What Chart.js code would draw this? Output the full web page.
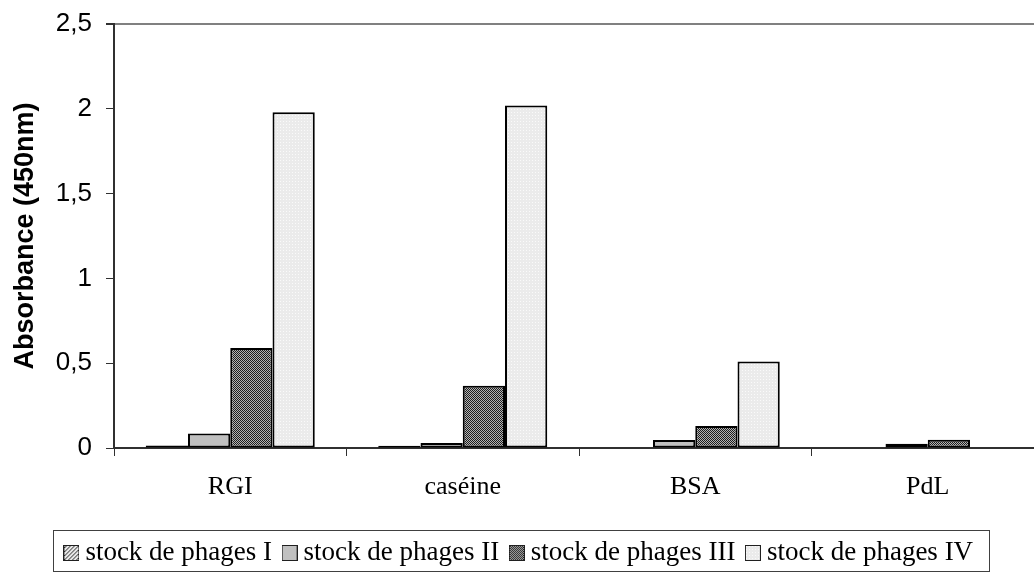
<!DOCTYPE html>
<html>
<head>
<meta charset="utf-8">
<script src="https://cdn.jsdelivr.net/npm/chart.js@4/dist/chart.umd.min.js"></script>
<style>
  html, body { margin: 0; padding: 0; background: #ffffff; overflow: hidden; }
  #wrap { width: 1034px; height: 572px; position: relative; overflow: hidden; }
  #c { display: block; }
</style>
</head>
<body>
<div id="wrap"><canvas id="c" width="1044" height="572"></canvas></div>
<script>
// Categories and measured absorbances (450 nm)
const categories = ['RGI', 'caséine', 'BSA', 'PdL'];
const seriesNames = ['stock de phages I', 'stock de phages II', 'stock de phages III', 'stock de phages IV'];
const stockI   = [0.015, 0.013, 0, 0];
const stockII  = [0.085, 0.03, 0.047, 0.025];
const stockIII = [0.59, 0.367, 0.13, 0.049];
const stockIV  = [1.98, 2.02, 0.51, 0];
const yTicks = [0, 0.5, 1, 1.5, 2, 2.5];

const SERIF = '"Liberation Serif", "Times New Roman", serif';
const SANS = '"Liberation Sans", Arial, sans-serif';

// Small tiled fill patterns
function tile(size, paint) {
  const cv = document.createElement('canvas');
  cv.width = size; cv.height = size;
  paint(cv.getContext('2d'), size);
  return cv;
}
const hatchTile = tile(4, (g, s) => {
  g.fillStyle = '#e8e8e8'; g.fillRect(0, 0, s, s);
  g.fillStyle = '#303030';
  for (let i = 0; i < s; i++) g.fillRect(s - 1 - i, i, 1, 1);
});
const greyTile = tile(2, (g) => { g.fillStyle = '#c0c0c0'; g.fillRect(0, 0, 2, 2); });
const checkTile = tile(2, (g) => {
  g.fillStyle = '#b4b4b4'; g.fillRect(0, 0, 2, 2);
  g.fillStyle = '#1e1e1e'; g.fillRect(0, 0, 1, 1); g.fillRect(1, 1, 1, 1);
});
const lightTile = tile(3, (g) => {
  g.fillStyle = '#ebebeb'; g.fillRect(0, 0, 3, 3);
  g.fillStyle = '#fafafa'; g.fillRect(1, 1, 1, 1);
});
const tiles = [hatchTile, greyTile, checkTile, lightTile];
const mainCtx = document.getElementById('c').getContext('2d');
const fills = tiles.map(t => mainCtx.createPattern(t, 'repeat'));
const values = [stockI, stockII, stockIII, stockIV];

// Legend swatches: patterned squares with a thin dark frame
const swatches = tiles.map(t => {
  const cv = document.createElement('canvas');
  cv.width = 16; cv.height = 16;
  const g = cv.getContext('2d');
  g.fillStyle = g.createPattern(t, 'repeat');
  g.fillRect(0, 0, 16, 16);
  g.strokeStyle = '#202020';
  g.lineWidth = 1;
  g.strokeRect(0.5, 0.5, 15, 15);
  return cv;
});

// Frame drawn round the legend items
const legendFrame = {
  id: 'legendFrame',
  afterDraw(chart) {
    const boxes = chart.legend && chart.legend.legendHitBoxes;
    if (!boxes || !boxes.length) return;
    const first = boxes[0], last = boxes[boxes.length - 1];
    const l = first.left + 0.5 - 8 - 10;
    const r = last.left + last.width + 16;
    const t = first.top - 9.5;
    const b = first.top + 31;
    const ctx = chart.ctx;
    ctx.save();
    ctx.strokeStyle = '#404040';
    ctx.lineWidth = 1;
    ctx.strokeRect(Math.round(l) + 0.5, Math.round(t) + 0.5, Math.round(r - l), Math.round(b - t));
    ctx.restore();
  }
};

new Chart(document.getElementById('c'), {
  type: 'bar',
  data: {
    labels: categories,
    datasets: seriesNames.map((name, i) => ({
      label: name,
      data: values[i],
      backgroundColor: fills[i],
      borderColor: '#000000',
      borderWidth: 2,
      borderSkipped: false,
      categoryPercentage: 0.727,
      barPercentage: 1.0
    }))
  },
  options: {
    responsive: false,
    animation: false,
    layout: { padding: { left: 0, right: 0, top: 24, bottom: -4.5 } },
    plugins: {
      tooltip: { enabled: false },
      legend: {
        position: 'bottom',
        labels: {
          color: '#000000',
          font: { family: SERIF, size: 27 },
          usePointStyle: true,
          pointStyleWidth: 1,
          padding: 17,
          generateLabels(chart) {
            return chart.data.datasets.map((ds, i) => ({
              text: ds.label,
              pointStyle: swatches[i],
              fillStyle: ds.backgroundColor,
              strokeStyle: '#000000',
              lineWidth: 0,
              datasetIndex: i
            }));
          }
        }
      }
    },
    scales: {
      x: {
        offset: true,
        afterFit(scale) { scale.height = 74.5; },
        border: { display: true, color: '#303030', width: 2 },
        grid: {
          offset: true,
          drawOnChartArea: false,
          drawTicks: true,
          tickLength: 8,
          color: '#303030',
          lineWidth: 1
        },
        ticks: {
          color: '#000000',
          padding: 16,
          font: { family: SERIF, size: 26 }
        }
      },
      y: {
        min: 0,
        max: 2.5,
        afterBuildTicks(scale) { scale.ticks = yTicks.map(v => ({ value: v })); },
        afterFit(scale) {
          scale.width = 114;
          // the top label fits inside the outer padding
          scale.paddingTop = 0;
          scale.paddingBottom = 0;
        },
        border: { display: true, color: '#303030', width: 2 },
        grid: {
          drawOnChartArea: true,
          drawTicks: true,
          tickLength: 8,
          color: ctx => (ctx.tick && ctx.tick.value === 2.5 ? '#808080' : 'rgba(0,0,0,0)'),
          tickColor: '#303030',
          lineWidth: ctx => (ctx.tick && ctx.tick.value === 2.5 ? 2 : 1)
        },
        ticks: {
          color: '#000000',
          padding: 14,
          font: { family: SANS, size: 26 },
          callback: v => String(v).replace('.', ',')
        },
        title: {
          display: true,
          text: 'Absorbance (450nm)',
          color: '#000000',
          font: { family: SANS, size: 27, weight: 'bold' },
          padding: { top: 9, bottom: 0 }
        }
      }
    }
  },
  plugins: [legendFrame]
});
</script>
</body>
</html>
